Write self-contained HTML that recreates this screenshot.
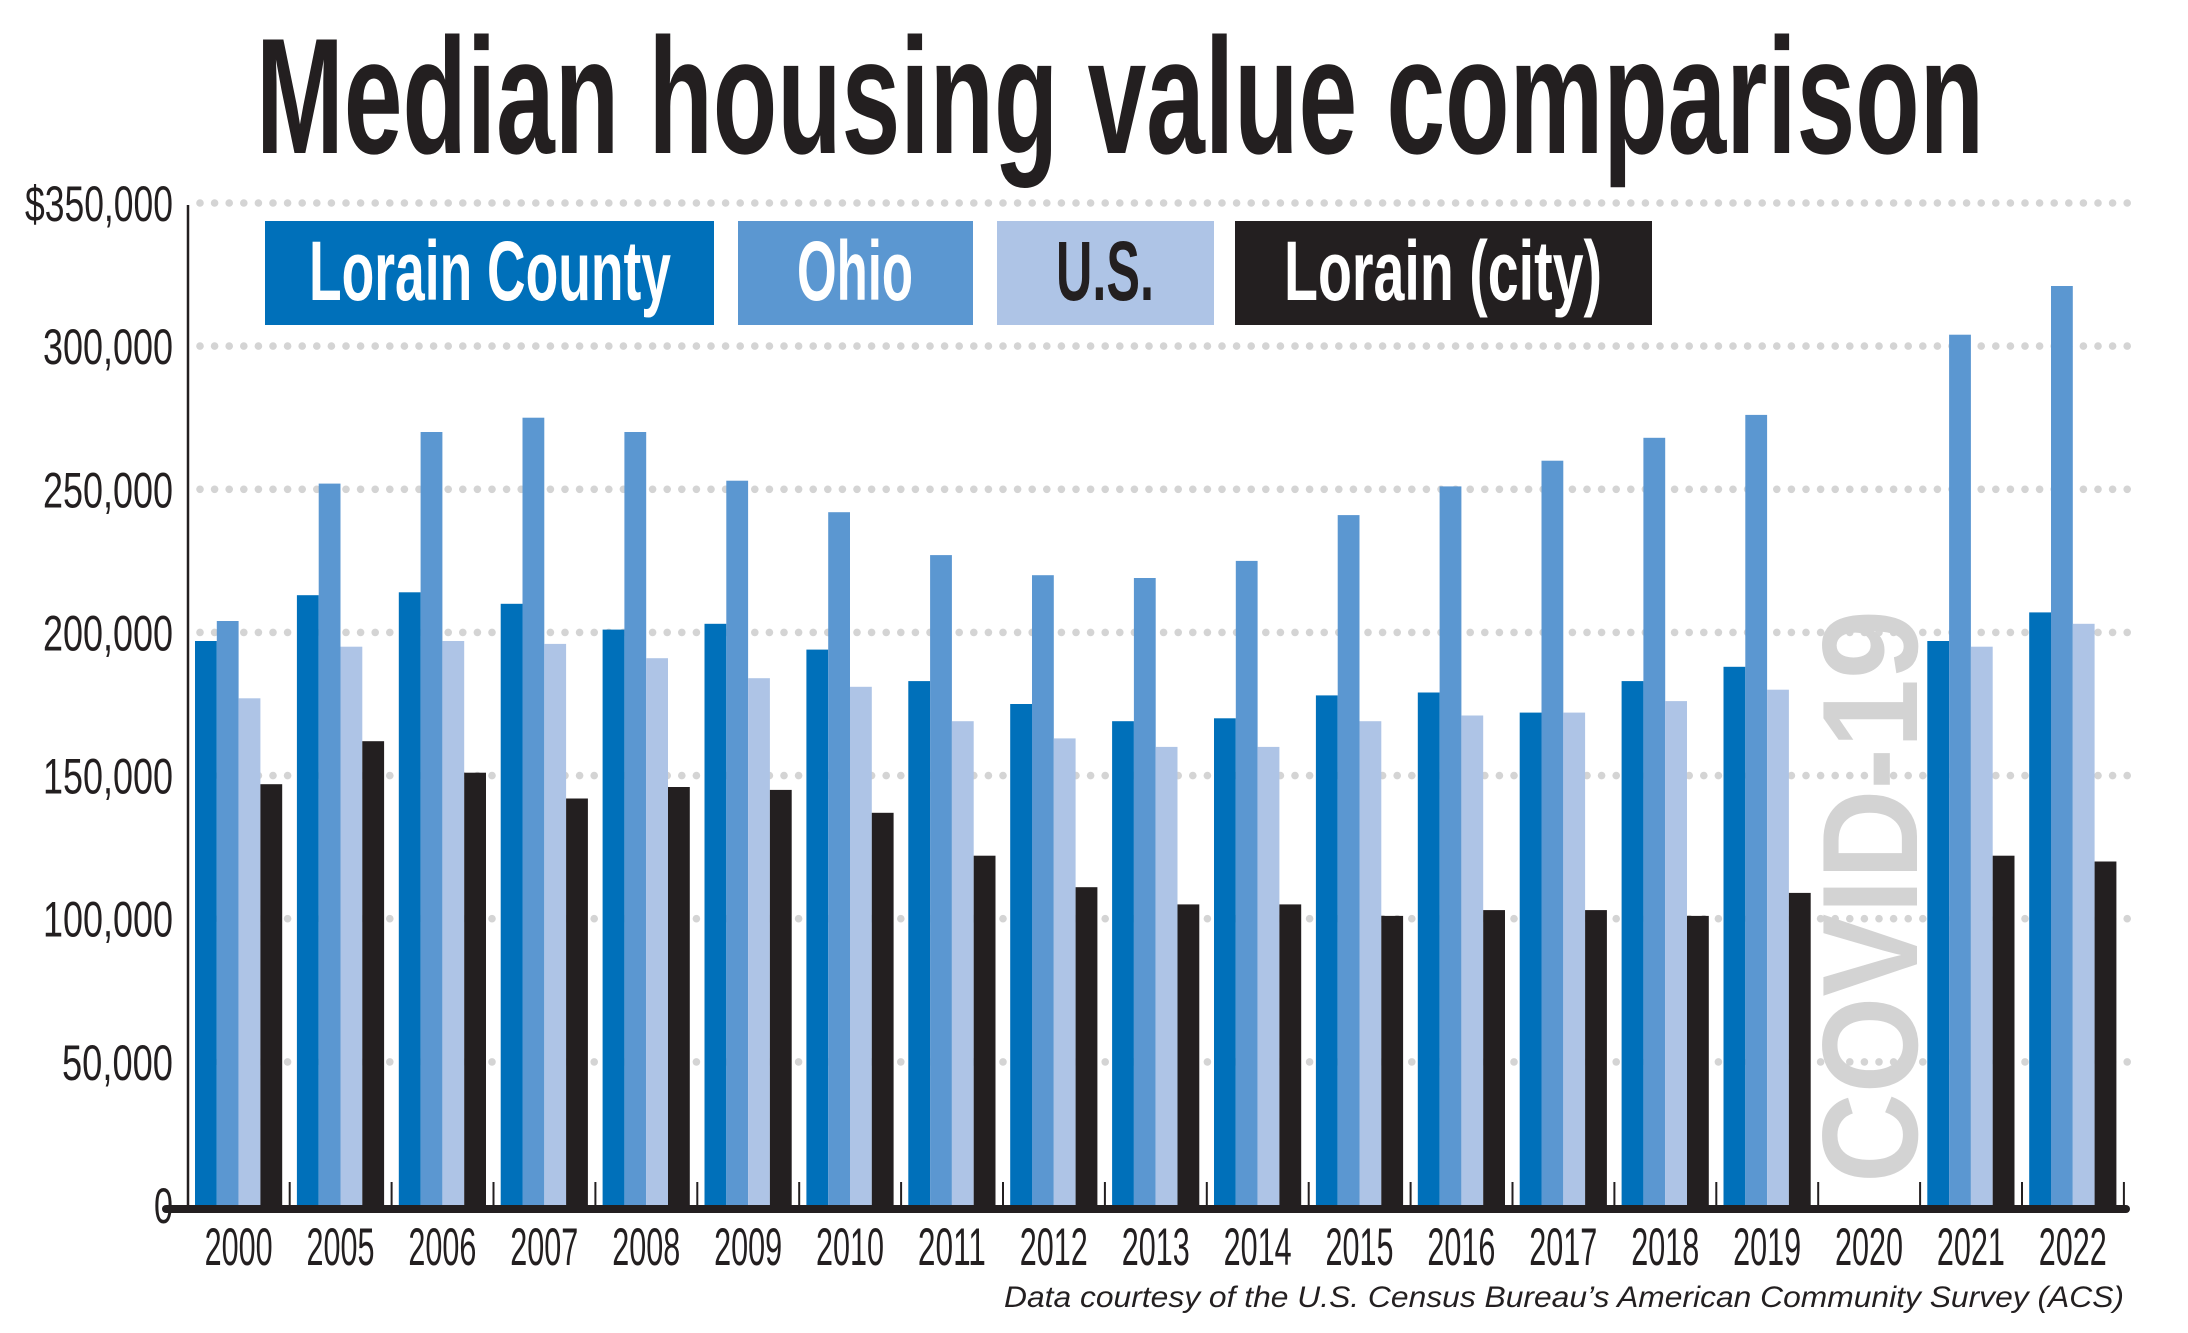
<!DOCTYPE html>
<html><head><meta charset="utf-8"><style>
html,body{margin:0;padding:0;background:#fff}
svg{display:block}
text{font-family:"Liberation Sans",sans-serif}
</style></head><body>
<svg id="chart" width="2188" height="1333" viewBox="0 0 2188 1333" xmlns="http://www.w3.org/2000/svg">
<text x="256" y="153" font-size="165" font-weight="bold" fill="#231f20" textLength="1728" lengthAdjust="spacingAndGlyphs">Median housing value comparison</text>
<g id="grid"></g>
<g id="bars"></g>
<g id="axes"></g>
<text transform="translate(1917,1183) rotate(-90)" font-size="136" font-weight="bold" fill="#d3d3d3" textLength="573" lengthAdjust="spacingAndGlyphs">COVID-19</text>
<g>
<g><rect x="265" y="221" width="449" height="104" fill="#0070ba"/><text x="490" y="300" text-anchor="middle" font-size="84" font-weight="bold" fill="#fff" textLength="362" lengthAdjust="spacingAndGlyphs">Lorain County</text></g>
<g><rect x="738" y="221" width="235" height="104" fill="#5b97d1"/><text x="855" y="300" text-anchor="middle" font-size="84" font-weight="bold" fill="#fff" textLength="116" lengthAdjust="spacingAndGlyphs">Ohio</text></g>
<g><rect x="997" y="221" width="217" height="104" fill="#aec4e6"/><text x="1105" y="300" text-anchor="middle" font-size="84" font-weight="bold" fill="#231f20" textLength="98" lengthAdjust="spacingAndGlyphs">U.S.</text></g>
<g><rect x="1235" y="221" width="417" height="104" fill="#231f20"/><text x="1443" y="300" text-anchor="middle" font-size="84" font-weight="bold" fill="#fff" textLength="318" lengthAdjust="spacingAndGlyphs">Lorain (city)</text></g>
</g>
<text x="2124" y="1307" text-anchor="end" font-size="30" font-style="italic" fill="#231f20" textLength="1120" lengthAdjust="spacingAndGlyphs">Data courtesy of the U.S. Census Bureau’s American Community Survey (ACS)</text>
</svg>
<script>
const categories=["2000","2005","2006","2007","2008","2009","2010","2011","2012","2013","2014","2015","2016","2017","2018","2019","2020","2021","2022"];
const lorainCounty=[197,213,214,210,201,203,194,183,175,169,170,178,179,172,183,188,null,197,207];
const ohio=[204,252,270,275,270,253,242,227,220,219,225,241,251,260,268,276,null,304,321];
const us=[177,195,197,196,191,184,181,169,163,160,160,169,171,172,176,180,null,195,203];
const lorainCity=[147,162,151,142,146,145,137,122,111,105,105,101,103,103,101,109,null,122,120];
const yTicks=[0,50,100,150,200,250,300,350];
const yTickLabels=["0","50,000","100,000","150,000","200,000","250,000","300,000","$350,000"];
const NS="http://www.w3.org/2000/svg";
const y0=1205,pxPer=1002/350;
function yScale(v){return y0-v*pxPer;}
const gx0=195,pitch=101.9,bw=21.8;
function xScale(i){return gx0+i*pitch;}
function mk(tag,attrs,parent){const e=document.createElementNS(NS,tag);for(const k in attrs)e.setAttribute(k,attrs[k]);parent.appendChild(e);return e;}
const grid=document.getElementById('grid'),bars=document.getElementById('bars'),axes=document.getElementById('axes');
yTicks.forEach((t,i)=>{
  if(t>0){
    const gy=yScale(t);
    const g=mk('g',{},grid);
    
    
    for(let x=200;x<=2130;x+=14.6){mk('circle',{cx:x.toFixed(1),cy:gy.toFixed(1),r:3.8,fill:'#d4d4d4'},g);}
  }
  const lab=yTickLabels[i];
  const tx=mk('text',{x:173,y:(yScale(t)+18).toFixed(1),'text-anchor':'end','font-size':50,fill:'#231f20',textLength:(lab.length*18.5).toFixed(0),lengthAdjust:'spacingAndGlyphs'},axes);
  tx.textContent=lab;
  
  
});
const series=[[lorainCounty,'#0070ba','lorain-county'],[ohio,'#5b97d1','ohio'],[us,'#aec4e6','us'],[lorainCity,'#231f20','lorain-city']];
categories.forEach((c,i)=>{
  series.forEach((s,j)=>{
    const v=s[0][i];
    if(v==null)return;
    const r=mk('rect',{x:(xScale(i)+j*bw).toFixed(1),y:yScale(v).toFixed(1),width:bw.toFixed(1),height:(y0-yScale(v)).toFixed(1),fill:s[1]},bars);
    
    
  });
  const lt=mk('text',{x:(xScale(i)+2*bw).toFixed(1),y:1265,'text-anchor':'middle','font-size':53,fill:'#231f20',textLength:68,lengthAdjust:'spacingAndGlyphs'},axes);
  lt.textContent=c;
  
  
  const tkx=xScale(i)+4*bw+7.5;
  const tk=mk('line',{x1:tkx.toFixed(1),x2:tkx.toFixed(1),y1:1182,y2:1207,stroke:'#231f20','stroke-width':2},axes);
  
  
});
const ya=mk('line',{x1:188,x2:188,y1:205,y2:1210,stroke:'#231f20','stroke-width':2.5},axes);


const xa=mk('line',{x1:166,x2:2126,y1:1209,y2:1209,stroke:'#231f20','stroke-width':8,'stroke-linecap':'round'},axes);


</script>
</body></html>
